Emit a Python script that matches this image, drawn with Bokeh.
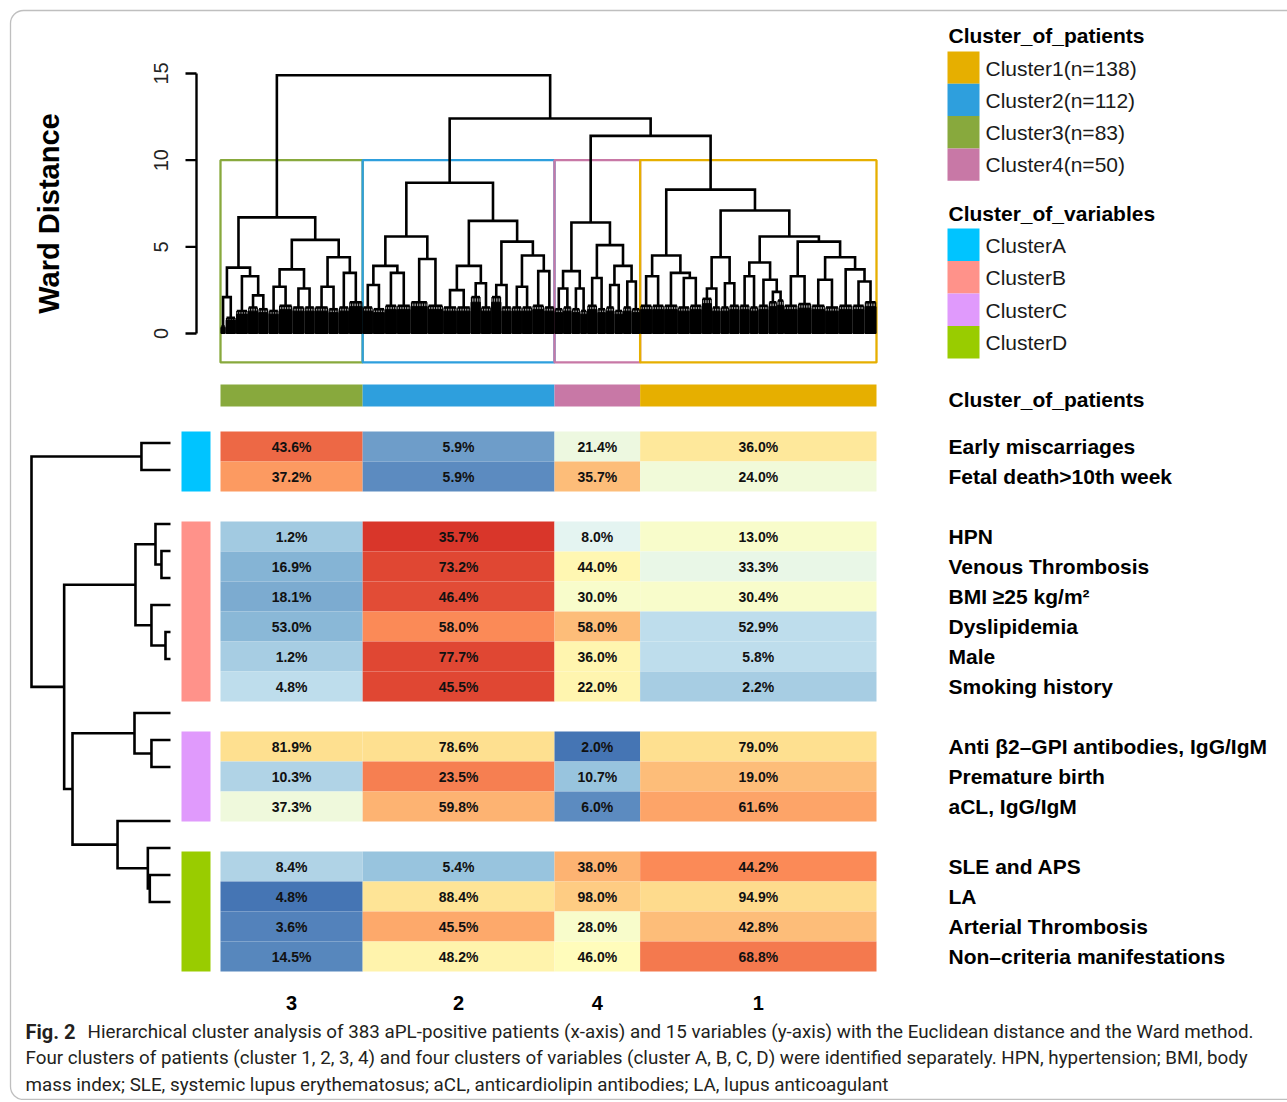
import numpy as np
from math import pi
from bokeh.plotting import figure
from bokeh.models import Range1d, BoxAnnotation, ColumnDataSource, LinearColorMapper
from bokeh.core.properties import value
from bokeh.embed import file_html
from bokeh.resources import INLINE

# ---------------- data ----------------
col_clusters = ["3", "2", "4", "1"]
col_sizes = [83, 112, 50, 138]
patient_legend = ["Cluster1(n=138)", "Cluster2(n=112)", "Cluster3(n=83)", "Cluster4(n=50)"]
variable_legend = ["ClusterA", "ClusterB", "ClusterC", "ClusterD"]

variables = ["Early miscarriages", "Fetal death>10th week", "HPN", "Venous Thrombosis",
             "BMI \u226525 kg/m\u00b2", "Dyslipidemia", "Male", "Smoking history",
             "Anti \u03b22\u2013GPI antibodies, IgG/IgM", "Premature birth", "aCL, IgG/IgM",
             "SLE and APS", "LA", "Arterial Thrombosis", "Non\u2013criteria manifestations"]
var_cluster = ["A", "A", "B", "B", "B", "B", "B", "B", "C", "C", "C", "D", "D", "D", "D"]

# percentages per patient cluster (columns in display order 3, 2, 4, 1)
pct_c3 = [43.6, 37.2, 1.2, 16.9, 18.1, 53.0, 1.2, 4.8, 81.9, 10.3, 37.3, 8.4, 4.8, 3.6, 14.5]
pct_c2 = [5.9, 5.9, 35.7, 73.2, 46.4, 58.0, 77.7, 45.5, 78.6, 23.5, 59.8, 5.4, 88.4, 45.5, 48.2]
pct_c4 = [21.4, 35.7, 8.0, 44.0, 30.0, 58.0, 36.0, 22.0, 2.0, 10.7, 6.0, 38.0, 98.0, 28.0, 46.0]
pct_c1 = [36.0, 24.0, 13.0, 33.3, 30.4, 52.9, 5.8, 2.2, 79.0, 19.0, 61.6, 44.2, 94.9, 42.8, 68.8]

# row-scaled values
sc_c3 = [2.38, 1.84, -1.77, -2.15, -2.28, -2.05, -1.70, -1.44, 1.0, -1.6, -0.5, -1.6, -2.98, -2.77, -2.74]
sc_c2 = [-2.43, -2.64, 2.89, 2.72, 2.65, 2.03, 2.70, 2.75, 1.0, 2.15, 1.55, -1.87, 0.87, 1.66, 0.4]
sc_c4 = [-0.55, 1.39, -0.86, 0.29, -0.2, 1.4, 0.35, 0.35, -3.0, -1.87, -2.65, 1.5, 1.25, -0.2, 0.1]
sc_c1 = [0.74, -0.45, -0.21, -0.67, -0.2, -1.44, -1.44, -1.72, 1.0, 1.38, 1.7, 2.03, 1.03, 1.4, 2.2]

# patient dendrogram (Ward distance); [n, h] = group of n patients joined below h
tree_c3 = (6.7,
           (3.8, (2.1, [3, 0.4], [6, 0.9]), (3.3, [7, 1.3], (2.2, [6, 1.5], [6, 1.4]))),
           (5.4, (3.7, (2.7, [6, 1.3], [8, 1.6]), (2.6, [7, 1.5], [6, 1.5])),
            (4.4, (2.7, [8, 1.5], [6, 1.4]), (3.5, [6, 1.5], [8, 1.8]))))
tree_c2 = (8.7,
           (5.6, (3.9, (2.8, [6, 1.5], [7, 1.4]), (3.5, [7, 1.6], [8, 1.6])),
            (4.3, [10, 1.8], [9, 1.6])),
           (6.5, (3.9, (2.5, [8, 1.5], [8, 1.5]), (2.9, [6, 2.1], [6, 1.5])),
            (5.3, (2.8, [6, 2.1], [6, 1.5]),
             (4.5, (2.7, [6, 1.5], [6, 1.5]), (3.6, [7, 1.6], [6, 1.5])))))
tree_c4 = (6.4,
           (3.6, (2.6, [5, 1.4], [5, 1.5]), (2.6, [5, 1.4], [4, 1.3])),
           (5.1, (3.2, [6, 1.6], [5, 1.4]),
            (3.9, (2.8, [5, 1.5], [5, 1.3]), (3.0, [5, 1.5], [5, 1.4]))))
tree_c1 = (8.3,
           (4.5, (3.3, [7, 1.6], [7, 1.6]), (3.5, [8, 1.6], (3.2, [7, 1.5], [7, 1.6]))),
           (7.1,
            (4.4, (2.6, [6, 2.0], [5, 1.5]), (2.9, [5, 1.5], [6, 1.6])),
            (5.6,
             (4.1, (3.3, [6, 1.6], [5, 1.5]), (3.1, [6, 1.6], (2.4, [5, 1.8], [4, 1.9]))),
             (5.3, (3.3, [8, 1.6], [8, 1.7]),
              (4.4, (3.1, [8, 1.6], [8, 1.5]), (3.7, [8, 1.6], (3.0, [7, 1.6], [7, 1.8])))))))
patient_tree = (14.9, tree_c3, (12.4, tree_c2, (11.4, tree_c4, tree_c1)))
ward_ticks = [0, 5, 10, 15]

# variable dendrogram (leaf = row index)
var_tree = (10.0, (2.09, 0, 1),
            (7.65, (2.52, (1.08, 2, (0.65, 3, 4)), (1.37, 5, (0.36, 6, 7))),
             (7.05, (2.59, 8, (1.37, 9, 10)), (3.81, 11, (1.63, 12, (1.49, 13, 14))))))

caption_bold = "Fig. 2"
caption_lines = [
    "Hierarchical cluster analysis of 383 aPL-positive patients (x-axis) and 15 variables (y-axis) with the Euclidean distance and the Ward method.",
    "Four clusters of patients (cluster 1, 2, 3, 4) and four clusters of variables (cluster A, B, C, D) were identified separately. HPN, hypertension; BMI, body",
    "mass index; SLE, systemic lupus erythematosus; aCL, anticardiolipin antibodies; LA, lupus anticoagulant",
]

# ---------------- styles ----------------
pat_colors = {"1": "#E6AF00", "2": "#2E9FDD", "3": "#88A93D", "4": "#C878A6"}
var_colors = {"A": "#00C4FF", "B": "#FF928A", "C": "#E09AFC", "D": "#99CC00"}
SANS = "Liberation Sans"
CAP = "Roboto"

stops = ["#4575B4", "#91BFDB", "#E0F3F8", "#FFFFBF", "#FEE090", "#FC8D59", "#D73027"]
def _rgb(h):
    return np.array([int(h[i:i + 2], 16) for i in (1, 3, 5)], float)
srgb = [_rgb(s) for s in stops]
palette = []
for i in range(100):
    t = i / 99 * 6
    k = min(int(t), 5)
    f = t - k
    c = srgb[k] * (1 - f) + srgb[k + 1] * f
    palette.append("#%02x%02x%02x" % tuple(int(round(v)) for v in c))
mapper = LinearColorMapper(palette=palette, low=-3, high=3)

# ---------------- figure ----------------
W, H = 1287, 1100
FX0, FX1, FY0, FY1 = 0, W, 0, H

def xrange_(a, pa, b, pb):
    f = lambda q: a + (q - pa) * (b - a) / (pb - pa)
    return Range1d(start=f(FX0), end=f(FX1))

def yrange_(a, pa, b, pb):
    f = lambda q: a + (q - pa) * (b - a) / (pb - pa)
    return Range1d(start=f(FY1), end=f(FY0))

p = figure(width=W, height=H, x_range=Range1d(FX0, FX1), y_range=Range1d(FY1, FY0),
           x_axis_type=None, y_axis_type=None, toolbar_location=None,
           output_backend="svg", min_border=0, outline_line_color=None)
p.grid.visible = False
p.extra_x_ranges = {"pat": xrange_(0, 220, 383, 876), "rowh": xrange_(0, 170, 10, 31)}
p.extra_y_ranges = {"ward": yrange_(0, 333, 15, 73), "rows": yrange_(0, 431, 1, 461),
                    "drow": yrange_(0, 429, 1, 456)}

# outer frame
p.add_layout(BoxAnnotation(left=10, right=1400, top=10, bottom=1099, fill_color=None,
                           line_color="#2a2a2a", line_width=1.3, border_radius=13))

# ---- column positions
cum = np.concatenate([[0], np.cumsum(col_sizes)])

# ---- cluster boxes on patient dendrogram
p.quad(left=cum[:-1], right=cum[1:], top=[10] * 4, bottom=[-1.67] * 4,
       x_range_name="pat", y_range_name="ward", fill_color=None,
       line_color=[pat_colors[c] for c in col_clusters], line_width=2.3)

# ---- patient dendrogram
paths_x, paths_y, comb_x, comb_h = [], [], [], []
grp_l, grp_r, grp_h = [], [], []
def lay(node, start):
    if isinstance(node, list):
        n, h = node
        xs = [start + i + 0.5 for i in range(n)]
        comb_x.extend(xs); comb_h.extend([h] * n)
        grp_l.append(start + 0.3); grp_r.append(start + n - 0.3); grp_h.append(h * 0.86)
        paths_x.append([xs[0], xs[-1]]); paths_y.append([h, h])
        return (xs[0] + xs[-1]) / 2, h, start + n
    h, L, R = node
    xl, hl, s = lay(L, start)
    xr, hr, s = lay(R, s)
    paths_x.append([xl, xl, xr, xr]); paths_y.append([hl, h, h, hr])
    return (xl + xr) / 2, h, s
lay(patient_tree, 0)
p.quad(left=grp_l, right=grp_r, bottom=[0] * len(grp_l), top=grp_h, x_range_name="pat",
       y_range_name="ward", fill_color="black", line_color="black", line_width=1)
p.segment(x0=comb_x, y0=[0] * len(comb_x), x1=comb_x, y1=comb_h, x_range_name="pat",
          y_range_name="ward", line_color="black", line_width=1.2)
p.multi_line(xs=paths_x, ys=paths_y, x_range_name="pat", y_range_name="ward",
             line_color="black", line_width=2.6, line_join="miter")

# ---- ward axis
p.segment(x0=[196], y0=[0], x1=[196], y1=[15], y_range_name="ward", line_color="black", line_width=2.4)
p.segment(x0=[185] * 4, y0=ward_ticks, x1=[196] * 4, y1=ward_ticks, y_range_name="ward",
          line_color="black", line_width=2.4)
p.text(x=[160] * 4, y=ward_ticks, text=[str(t) for t in ward_ticks], angle=pi / 2,
       y_range_name="ward", text_align="center", text_baseline="middle",
       text_font=value(SANS), text_font_size="20px", text_color="#222")
p.text(x=[48], y=[213], text=["Ward Distance"], angle=pi / 2, text_align="center",
       text_baseline="middle", text_font=value(SANS), text_font_style="bold",
       text_font_size="29px", text_color="black")

# ---- column annotation bar
p.quad(left=cum[:-1], right=cum[1:], top=[384] * 4, bottom=[406] * 4, x_range_name="pat",
       fill_color=[pat_colors[c] for c in col_clusters], line_color=None)

# ---- row slots (gaps between variable clusters)
slots, s, prev = [], 0, None
for g in var_cluster:
    if prev is not None and g != prev:
        s += 1
    slots.append(s); s += 1; prev = g

# ---- heatmap
pct_cols = [pct_c3, pct_c2, pct_c4, pct_c1]
sc_cols = [sc_c3, sc_c2, sc_c4, sc_c1]
d = dict(left=[], right=[], top=[], bottom=[], scaled=[], label=[], xc=[], yc=[])
for ci in range(4):
    for r in range(len(variables)):
        d["left"].append(cum[ci]); d["right"].append(cum[ci + 1])
        d["top"].append(slots[r]); d["bottom"].append(slots[r] + 1)
        d["scaled"].append(sc_cols[ci][r]); d["label"].append("%.1f%%" % pct_cols[ci][r])
        d["xc"].append((cum[ci] + cum[ci + 1]) / 2); d["yc"].append(slots[r] + 0.5)
src = ColumnDataSource(d)
p.quad(left="left", right="right", top="top", bottom="bottom", source=src,
       fill_color={"field": "scaled", "transform": mapper}, line_color=None,
       x_range_name="pat", y_range_name="rows")
p.text(x="xc", y="yc", text="label", source=src, x_range_name="pat", y_range_name="rows",
       text_align="center", text_baseline="middle", text_font=value(SANS),
       text_font_style="bold", text_font_size="14px", text_color="#111")

# ---- row annotation
groups = ["A", "B", "C", "D"]
g_top = [min(slots[i] for i in range(len(slots)) if var_cluster[i] == g) for g in groups]
g_bot = [max(slots[i] for i in range(len(slots)) if var_cluster[i] == g) + 1 for g in groups]
p.quad(left=[181] * 4, right=[210] * 4, top=g_top, bottom=g_bot, y_range_name="rows",
       fill_color=[var_colors[g] for g in groups], line_color=None)

# ---- variable dendrogram
rx, ry = [], []
def lay_rows(node):
    if isinstance(node, int):
        return slots[node] + 0.5, 0.0
    h, L, R = node
    yl, hl = lay_rows(L)
    yr, hr = lay_rows(R)
    rx.append([hl, h, h, hr]); ry.append([yl, yl, yr, yr])
    return (yl + yr) / 2, h
lay_rows(var_tree)
p.multi_line(xs=rx, ys=ry, x_range_name="rowh", y_range_name="drow", line_color="black",
             line_width=2.6, line_join="miter")

# ---- row labels
p.text(x=[948] * len(variables), y=[sl + 0.5 for sl in slots], text=variables,
       y_range_name="rows", text_align="left", text_baseline="middle",
       text_font=value(SANS), text_font_style="bold", text_font_size="21px", text_color="black")

# ---- column labels
p.text(x=[(cum[i] + cum[i + 1]) / 2 for i in range(4)], y=[1002] * 4, text=col_clusters,
       x_range_name="pat", text_align="center", text_baseline="middle",
       text_font=value(SANS), text_font_style="bold", text_font_size="20px", text_color="black")

# ---- legends
p.text(x=[948, 948, 948], y=[35, 213, 399],
       text=["Cluster_of_patients", "Cluster_of_variables", "Cluster_of_patients"],
       text_align="left", text_baseline="middle", text_font=value(SANS),
       text_font_style="bold", text_font_size="21px", text_color="black")
leg_pat_keys = ["1", "2", "3", "4"]
leg_var_keys = ["A", "B", "C", "D"]
ptops = [51 + 32.3 * i for i in range(4)]
vtops = [228 + 32.5 * i for i in range(4)]
p.quad(left=[947] * 4, right=[979] * 4, top=ptops, bottom=[t + 32.3 for t in ptops],
       fill_color=[pat_colors[k] for k in leg_pat_keys], line_color=None)
p.quad(left=[947] * 4, right=[979] * 4, top=vtops, bottom=[t + 32.5 for t in vtops],
       fill_color=[var_colors[k] for k in leg_var_keys], line_color=None)
p.text(x=[985] * 4, y=[t + 16.5 for t in ptops], text=patient_legend, text_align="left",
       text_baseline="middle", text_font=value(SANS), text_font_size="21px", text_color="#1a1a1a")
p.text(x=[985] * 4, y=[t + 16.5 for t in vtops], text=variable_legend, text_align="left",
       text_baseline="middle", text_font=value(SANS), text_font_size="21px", text_color="#1a1a1a")

# ---- caption
p.text(x=[25], y=[1031], text=[caption_bold], text_align="left", text_baseline="middle",
       text_font=value(CAP), text_font_style="bold", text_font_size="20px", text_color="#231f20")
p.text(x=[87, 25, 25], y=[1031, 1057, 1084], text=caption_lines, text_align="left",
       text_baseline="middle", text_font=value(CAP), text_font_size="18.8px", text_color="#231f20")

open("out.html", "w").write(file_html(p, INLINE))
